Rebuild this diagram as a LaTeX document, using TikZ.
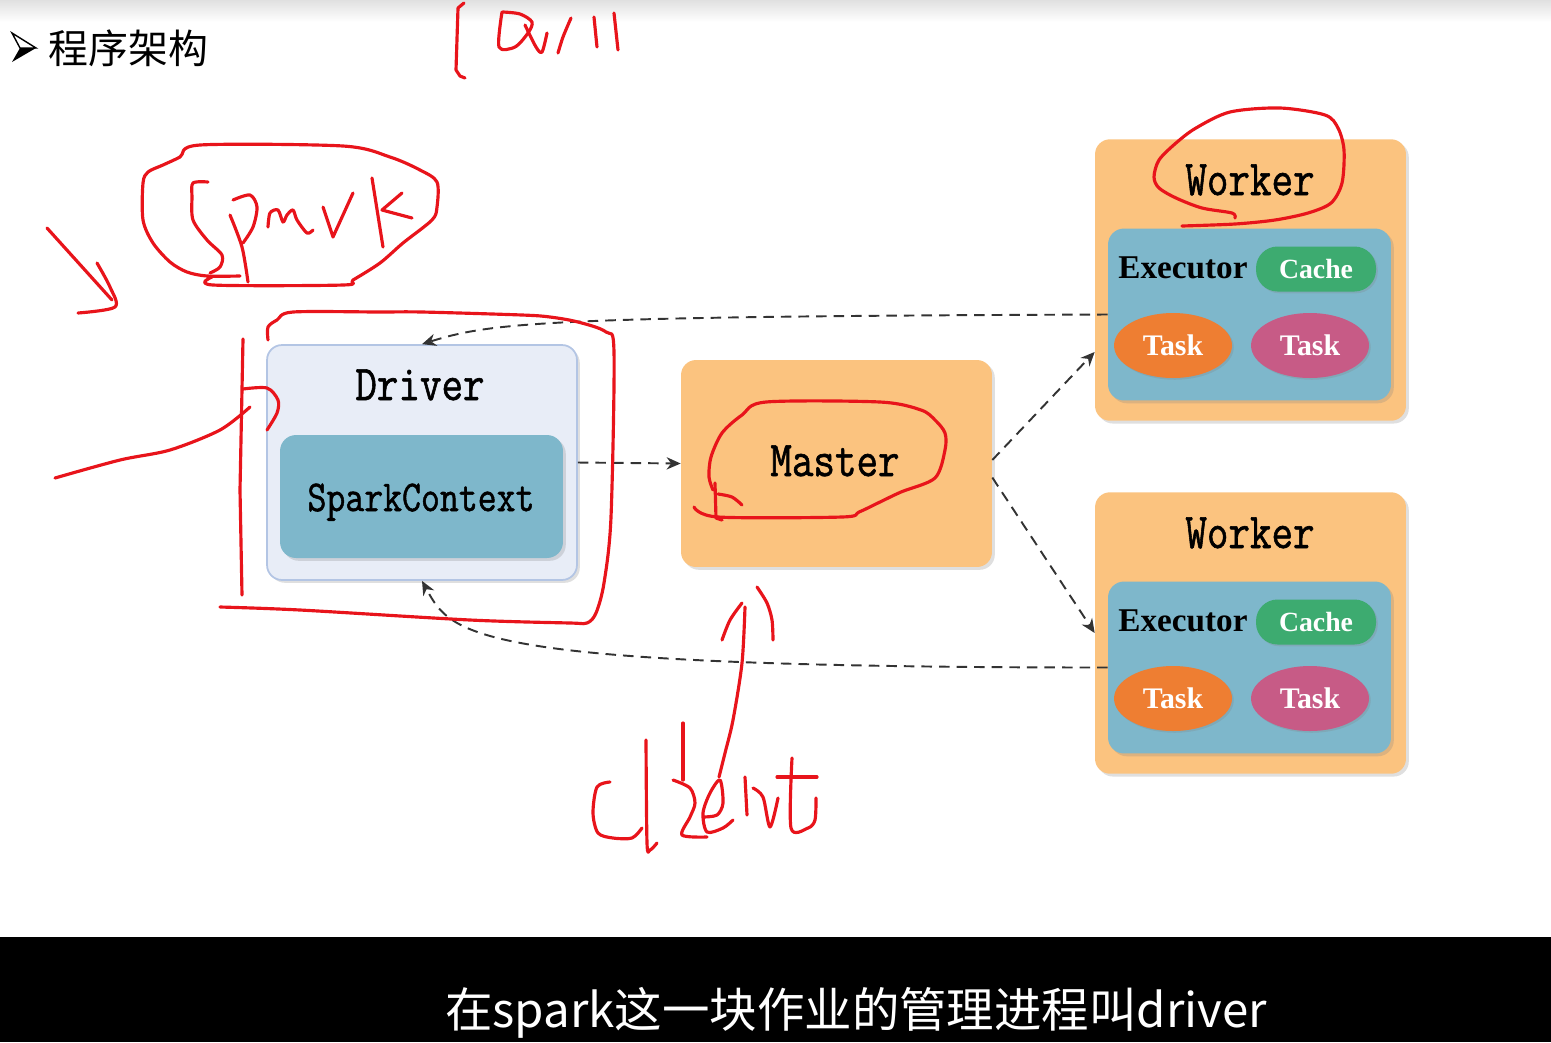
\documentclass[tikz,border=0pt]{standalone}
\usepackage{graphicx}
\usepackage{fontspec}
\newfontfamily\cjk{Noto Sans CJK SC}
\newfontfamily\tms{Liberation Serif}
\newfontfamily\monob[FakeBold=1.3]{Latin Modern Mono}
\usetikzlibrary{arrows.meta,positioning,calc,shapes.geometric,shadows}
\definecolor{drvfill}{HTML}{E8EDF7}
\definecolor{drvline}{HTML}{B3C5E4}
\definecolor{ctxblue}{HTML}{7EB7CB}
\definecolor{boxorange}{HTML}{FBC37F}
\definecolor{cachegreen}{HTML}{3DAB70}
\definecolor{taskorange}{HTML}{EE7E32}
\definecolor{taskpink}{HTML}{C75B86}
\definecolor{ink}{HTML}{E8141B}
\newcommand{\tallmono}[1]{\scalebox{1}[1.2]{\monob #1}}
\tikzset{
  panel/.style={rectangle,rounded corners=0.3cm,inner sep=0pt,
    drop shadow={shadow xshift=1.6pt,shadow yshift=-1.6pt,opacity=0.25}},
  bigname/.style={anchor=base,inner sep=0pt,font=\fontsize{23.8}{26}\selectfont},
  execname/.style={anchor=base,inner sep=0pt,font=\tms\bfseries\fontsize{18.9}{21}\selectfont},
  pill/.style={rectangle,rounded corners=0.43cm,fill=cachegreen,text=white,
    minimum width=2.4cm,minimum height=0.9cm,inner sep=0pt,
    font=\tms\bfseries\fontsize{15.8}{18}\selectfont,
    drop shadow={shadow xshift=1pt,shadow yshift=-1pt,opacity=0.25}},
  taskegg/.style={ellipse,text=white,minimum width=2.36cm,minimum height=1.3cm,inner sep=0pt,
    font=\tms\bfseries\fontsize{17}{19}\selectfont,
    drop shadow={shadow xshift=1pt,shadow yshift=-1pt,opacity=0.25}},
  link/.style={draw=black!80,line width=1.1pt,dash pattern=on 6pt off 4pt,
    -{Stealth[length=8pt,width=7pt]}},
  inkline/.style={draw=ink,line width=1.8pt,line cap=round,line join=round},
}
\begin{document}
\begin{tikzpicture}[x=0.02cm,y=-0.02cm]
  \useasboundingbox (0,0) rectangle (1551,1042);
  \shade[top color=black!12,bottom color=white] (0,0) rectangle (1551,22);
  % 标题
  \draw[line width=0.8pt] (12,33) -- (36,48) -- (20,48) -- cycle;
  \fill (20,48) -- (36,48) -- (12,62) -- cycle;
  \node[anchor=base west,inner sep=0pt,font=\cjk\fontsize{22.7}{25}\selectfont] (title) at (48,63) {程序架构};

  % Driver
  \node[panel,fill=drvfill,draw=drvline,line width=1pt,minimum width=6.2cm,minimum height=4.7cm] (driver) at (422,462.5) {};
  \node[panel,rounded corners=0.32cm,fill=ctxblue,minimum width=5.66cm,minimum height=2.46cm,drop shadow={opacity=0}] (ctx) at (421.5,496.5) {};
  \node[bigname] (driverlbl) at (420,400) {\tallmono{Driver}};
  \node[anchor=base,inner sep=0pt,font=\fontsize{20.9}{23}\selectfont] (ctxlbl) at (421,511) {\tallmono{SparkContext}};

  % Master
  \node[panel,fill=boxorange,minimum width=6.22cm,minimum height=4.14cm] (master) at (836.5,463.5) {};
  \node[bigname] (masterlbl) at (835,476) {\tallmono{Master}};

  % Worker
  \foreach \n/\y in {1/0,2/353}{
    \node[panel,fill=boxorange,minimum width=6.22cm,minimum height=5.63cm] (worker\n) at (1250.5,280+\y) {};
    \node[panel,rounded corners=0.32cm,fill=ctxblue,minimum width=5.66cm,minimum height=3.44cm] (exec\n) at (1249.5,314.5+\y) {};
    \node[bigname] (workerlbl\n) at (1250,195+\y) {\tallmono{Worker}};
    \node[execname] (execlbl\n) at (1183,278+\y) {Executor};
    \node[pill] (cache\n) at (1316,269+\y) {Cache};
    \node[taskegg,fill=taskorange] (taska\n) at (1173,345.5+\y) {Task};
    \node[taskegg,fill=taskpink] (taskb\n) at (1310,345.5+\y) {Task};
  }

  % 虚线箭头
  \draw[link] (driver.east) -- (master.west);
  \draw[link] ([yshift=2pt]master.east) -- ($(worker1.north west)!0.755!(worker1.south west)$);
  \draw[link] ([yshift=-8pt]master.east) -- (worker2.west);
  \draw[link] (exec1.west) .. controls +(-560,2) and +(70,-22) .. (driver.north);
  \draw[link] (exec2.west) .. controls +(-640,0) and +(30,55) .. (driver.south);

  % 手写批注
  \draw[inkline] (464,3) -- (458,8) -- (456,70) -- (460,76) -- (465,78);
  \draw[inkline] plot[smooth] coordinates {(502,12) (499,47) (515,47) (528,33) (532,22) (520,14) (503,12)};
  \draw[inkline] plot[smooth] coordinates {(525,25) (536,47) (542,52) (547,33)};
  \draw[inkline] plot[smooth] coordinates {(558,53) (563,37) (571,18)};
  \draw[inkline] (594,17) -- (597,47);
  \draw[inkline] (614,13) -- (618,50);

  \draw[inkline] plot[smooth] coordinates {(240,276) (207,276) (187,272) (170,262) (153,243) (143,220) (143,183) (148,172) (163,165) (180,157) (200,145) (343,146) (390,157) (420,170) (437,182) (437,207) (432,220) (403,243) (380,263) (353,280) (343,285) (213,285) (212,277)};
  \draw[inkline] plot[smooth] coordinates {(208,182) (193,183) (192,197) (193,220) (207,240) (222,255) (220,267) (210,273)};
  \draw[inkline] plot[smooth] coordinates {(230,215) (242,247) (248,282)};
  \draw[inkline] plot[smooth] coordinates {(233,200) (250,195) (257,207) (253,227) (243,243)};
  \draw[inkline] plot[smooth] coordinates {(268,227) (270,213) (278,210) (283,222) (287,215) (293,210) (297,220) (307,233) (313,230)};
  \draw[inkline] (323,207) -- (333,237) -- (353,193);
  \draw[inkline] (372,178) -- (383,247);
  \draw[inkline] (402,193) -- (382,210) -- (412,218);

  \draw[inkline] (47,228) -- (112,300);
  \draw[inkline] plot[smooth] coordinates {(97,263) (110,287) (115,307) (78,313)};
  \draw[inkline] (243,339) -- (240,490) -- (242,595);
  \draw[inkline] plot[smooth] coordinates {(243,389) (267,388) (278,400) (277,413) (267,430)};
  \draw[inkline] plot[smooth] coordinates {(55,478) (120,460) (170,450) (220,430) (250,407)};
  \draw[inkline] plot[smooth] coordinates {(268,340) (268,327) (277,320) (293,312) (380,312) (422,312) (522,315) (550,317) (578,322) (606,332) (614,352) (611,517) (604,583) (596,613) (587,623) (570,623) (470,620) (300,610) (220,607)};

  \draw[inkline] plot[smooth] coordinates {(694,507) (718,517) (842,517) (859,512) (880,502) (901,492) (935,478) (945,450) (945,433) (935,420) (921,410) (880,402) (766,402) (742,415) (722,433) (711,457) (709,477) (713,490)};
  \draw[inkline] (715,483) -- (716,518) -- (722,520);
  \draw[inkline] plot[smooth] coordinates {(718,494) (732,497) (742,505)};

  \draw[inkline] plot[smooth] coordinates {(1235,218) (1232,213) (1202,208) (1176,198) (1159,188) (1154,177) (1159,160) (1176,143) (1196,128) (1230,112) (1280,108) (1325,115) (1338,128) (1344,150) (1342,183) (1331,203) (1308,213) (1275,220) (1235,224) (1182,226)};

  \draw[inkline] plot[smooth] coordinates {(722,640) (730,620) (742,603)};
  \draw[inkline] plot[smooth] coordinates {(745,607) (742,663) (733,720) (725,753) (719,777)};
  \draw[inkline] plot[smooth] coordinates {(757,587) (767,603) (772,620) (773,640)};
  \draw[inkline] plot[smooth] coordinates {(610,782) (597,787) (593,813) (598,833) (613,838) (632,838) (642,828)};
  \draw[inkline] plot[smooth] coordinates {(646,740) (647,843) (650,850) (657,843)};
  \draw[inkline] (683,723) -- (683,780);
  \draw[inkline] plot[smooth] coordinates {(673,780) (690,788) (695,803) (690,817) (682,835) (707,837)};
  \draw[inkline] plot[smooth] coordinates {(703,817) (717,815) (723,803) (720,780) (710,793) (703,813) (707,832) (723,828) (733,820)};
  \draw[inkline] (745,777) -- (747,815);
  \draw[inkline] plot[smooth] coordinates {(753,788) (763,797) (770,827) (778,798)};
  \draw[inkline] plot[smooth] coordinates {(792,758) (791,828) (808,828) (815,820) (816,798)};
  \draw[inkline] (777,777) -- (817,777);

  % 字幕
  \fill[black] (0,937) rectangle (1551,1042);
  \node[anchor=base,inner sep=0pt,text=white,font=\cjk\fontsize{27}{30}\selectfont] (subtitle) at (856,1027) {在spark这一块作业的管理进程叫driver};
\end{tikzpicture}
\end{document}
